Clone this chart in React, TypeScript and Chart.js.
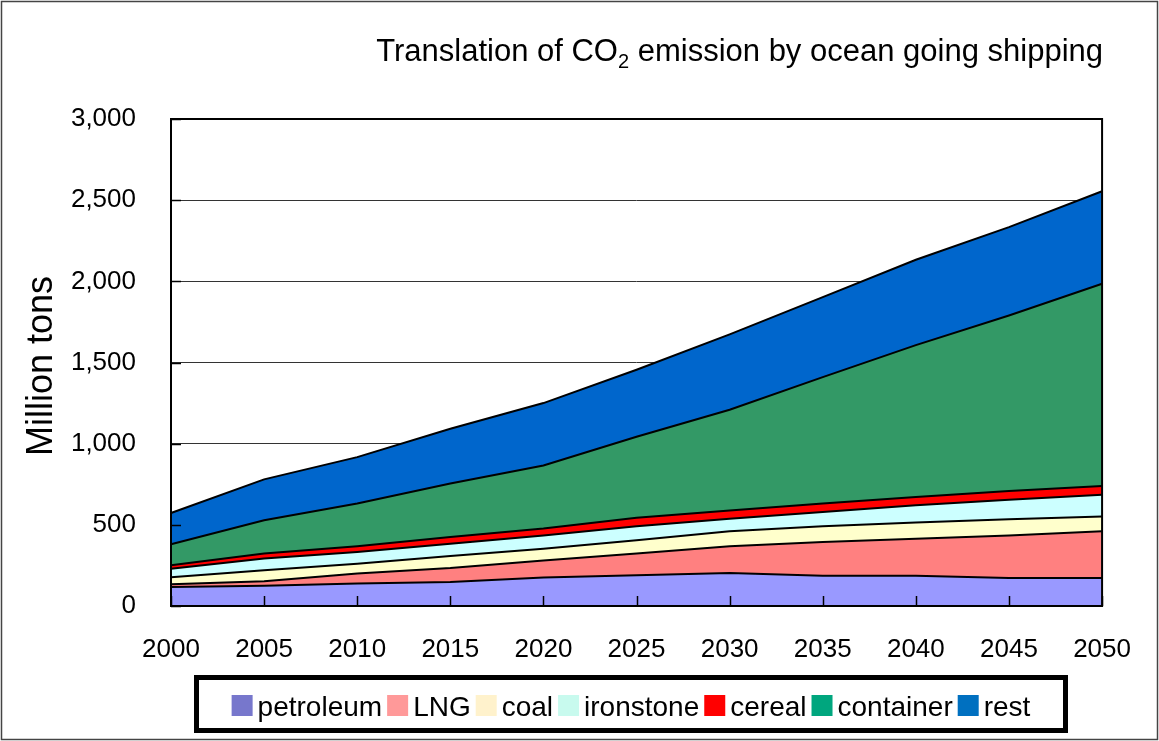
import { useEffect, useRef } from 'react';
import { Chart, registerables } from 'chart.js';

Chart.register(...registerables);

// Emissions per cargo type, million tons (stacked)
const years = ['2000', '2005', '2010', '2015', '2020', '2025', '2030', '2035', '2040', '2045', '2050'];
const petroleum = [117, 125, 138, 148, 175, 189, 203, 187, 187, 172, 172];
const lng = [17, 27, 62, 86, 106, 134, 165, 207, 228, 263, 288];
const coal = [43, 68, 61, 74, 72, 82, 92, 97, 99, 99, 92];
const ironstone = [53, 72, 72, 76, 82, 86, 78, 88, 106, 121, 134];
const cereal = [21, 31, 35, 41, 42, 53, 51, 52, 51, 53, 53];
const container = [129, 205, 264, 330, 389, 499, 620, 779, 936, 1082, 1246];
const rest = [193, 252, 285, 337, 384, 412, 464, 493, 526, 544, 570];

const seriesNames = ['petroleum', 'LNG', 'coal', 'ironstone', 'cereal', 'container', 'rest'];
const seriesValues = [petroleum, lng, coal, ironstone, cereal, container, rest];
const fillColors = ['#9999FF', '#FF8080', '#FFFFCC', '#CCFFFF', '#FF0000', '#339966', '#0066CC'];
const legendColors = ['#7777CC', '#FF9999', '#FFF2CC', '#C8FAEE', '#FF0000', '#00A67E', '#0070C0'];

const yTicks = [0, 500, 1000, 1500, 2000, 2500, 3000];

const FONT = '"Liberation Sans", Arial, sans-serif';

const decorations = {
  id: 'decorations',
  beforeDraw(chart: any) {
    const { ctx, width, height } = chart;
    ctx.save();
    ctx.fillStyle = '#fff';
    ctx.fillRect(0, 0, width, height);
    ctx.restore();
  },
  afterDatasetsDraw(chart: any) {
    const { ctx, chartArea } = chart;
    const { left, right, top, bottom } = chartArea;
    const xScale = chart.scales.x;
    const yScale = chart.scales.y;
    ctx.save();
    ctx.strokeStyle = '#000';
    ctx.lineWidth = 1.5;
    // inward tick marks on the category axis
    years.forEach((_, i) => {
      const x = Math.round(xScale.getPixelForValue(i)) + 0.5;
      ctx.beginPath();
      ctx.moveTo(x, bottom);
      ctx.lineTo(x, bottom - 10);
      ctx.stroke();
    });
    // inward tick marks on the value axis
    yTicks.forEach((v) => {
      const y = Math.round(yScale.getPixelForValue(v)) + 0.5;
      ctx.beginPath();
      ctx.moveTo(left, y);
      ctx.lineTo(left + 10, y);
      ctx.stroke();
    });
    // plot area frame
    ctx.lineWidth = 2;
    ctx.strokeRect(left, top, right - left, bottom - top);
    ctx.restore();
  },
  afterDraw(chart: any) {
    const { ctx, width, height } = chart;
    ctx.save();

    // outer frame
    ctx.strokeStyle = '#444';
    ctx.lineWidth = 1.5;
    ctx.strokeRect(1.5, 1.5, width - 3, height - 3);

    // chart title with subscripted 2
    ctx.fillStyle = '#000';
    ctx.textBaseline = 'alphabetic';
    ctx.textAlign = 'left';
    const mainFont = `31px ${FONT}`;
    const subFont = `20px ${FONT}`;
    const part1 = 'Translation of CO';
    const part2 = '2';
    const part3 = ' emission by ocean going shipping';
    ctx.font = mainFont;
    const w1 = ctx.measureText(part1).width;
    const w3 = ctx.measureText(part3).width;
    ctx.font = subFont;
    const w2 = ctx.measureText(part2).width;
    const endX = 1103;
    const baseY = 61;
    let x = endX - (w1 + w2 + w3);
    ctx.font = mainFont;
    ctx.fillText(part1, x, baseY);
    x += w1;
    ctx.font = subFont;
    ctx.fillText(part2, x, baseY + 7);
    x += w2;
    ctx.font = mainFont;
    ctx.fillText(part3, x, baseY);

    // value axis title
    ctx.save();
    ctx.translate(42, 366);
    ctx.rotate(-Math.PI / 2);
    ctx.font = `36px ${FONT}`;
    ctx.textAlign = 'center';
    ctx.textBaseline = 'middle';
    ctx.fillText('Million tons', 0, 0);
    ctx.restore();

    // legend box
    const boxL = 194, boxT = 675, boxR = 1068, boxB = 733;
    ctx.lineWidth = 5;
    ctx.strokeStyle = '#000';
    ctx.strokeRect(boxL + 2.5, boxT + 2.5, boxR - boxL - 5, boxB - boxT - 5);

    ctx.font = `28px ${FONT}`;
    const sw = 21;
    const gapIn = 5;
    const gapOut = 5;
    const widths = seriesNames.map((n) => ctx.measureText(n).width);
    const total = widths.reduce((a, b) => a + b, 0) + seriesNames.length * (sw + gapIn) + (seriesNames.length - 1) * gapOut;
    let lx = (boxL + boxR) / 2 - total / 2;
    const base = 716;
    ctx.textAlign = 'left';
    ctx.textBaseline = 'alphabetic';
    chart.data.datasets.forEach((ds: any, i: number) => {
      ctx.fillStyle = ds.legendColor;
      ctx.fillRect(lx, base - sw, sw, sw);
      lx += sw + gapIn;
      ctx.fillStyle = '#000';
      ctx.fillText(ds.label, lx, base);
      lx += widths[i] + gapOut;
    });

    ctx.restore();
  },
};

export default function App() {
  const ref = useRef<HTMLCanvasElement>(null);

  useEffect(() => {
    document.body.style.margin = '0';
    const canvas = ref.current;
    if (!canvas) return;
    const chart = new Chart(canvas, {
      type: 'line',
      data: {
        labels: years,
        datasets: seriesNames.map((name, i) => ({
          label: name,
          data: seriesValues[i],
          backgroundColor: fillColors[i],
          borderColor: '#000',
          borderWidth: 2,
          pointRadius: 0,
          tension: 0,
          fill: i === 0 ? 'origin' : '-1',
          legendColor: legendColors[i],
        })) as any,
      },
      options: {
        responsive: false,
        animation: false,
        layout: { padding: { top: 119, right: 53, left: 0, bottom: 0 } },
        plugins: {
          legend: { display: false },
          title: { display: false },
          tooltip: { enabled: false },
        },
        scales: {
          x: {
            type: 'category',
            offset: false,
            grid: { display: false, drawTicks: false },
            border: { display: false },
            ticks: {
              color: '#000',
              font: { family: FONT, size: 26 },
              padding: 28,
              maxRotation: 0,
              autoSkip: false,
            },
            afterFit(scale: any) {
              scale.height = 135;
            },
          },
          y: {
            stacked: true,
            min: 0,
            max: 3000,
            afterBuildTicks(scale: any) {
              scale.ticks = yTicks.map((v) => ({ value: v }));
            },
            grid: { color: '#333', lineWidth: 1, drawTicks: false },
            border: { display: false },
            ticks: {
              color: '#000',
              font: { family: FONT, size: 26 },
              padding: 35,
              callback: (v: any) => Number(v).toLocaleString('en-US'),
            },
            afterFit(scale: any) {
              scale.width = 171;
            },
          },
        },
      },
      plugins: [decorations],
    });
    return () => chart.destroy();
  }, []);

  return <canvas ref={ref} width={1159} height={741} style={{ display: 'block' }} />;
}
